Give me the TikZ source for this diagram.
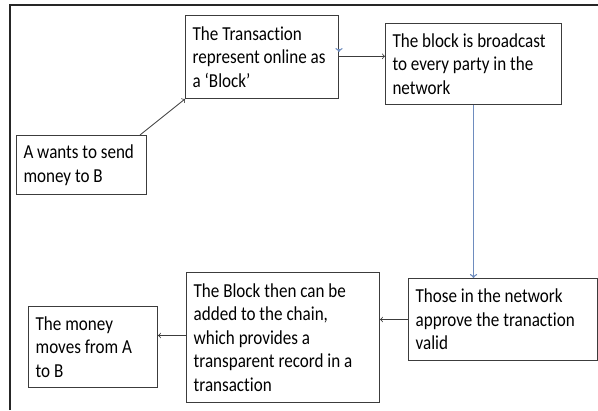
\documentclass[tikz,border=0pt]{standalone}
\usepackage{fontspec}
\usepackage{graphicx}
\setmainfont[Ligatures=NoCommon]{Carlito}
\definecolor{flowblue}{RGB}{110,140,190}
\definecolor{boxgray}{RGB}{60,60,60}
% text lines of a box, a little taller than wide as in the scan
\newcommand{\boxlines}[2]{\scalebox{1}[1.16]{\parbox{#1}{\raggedright #2}}}
\tikzset{
  flowbox/.style={draw=boxgray, line width=0.75pt, anchor=north west, align=left,
    inner sep=5pt, font=\fontsize{12.8pt}{15.2pt}\selectfont},
  flowarrow/.style={->, draw=boxgray, line width=0.6pt},
  bluearrow/.style={->, draw=flowblue, line width=1pt}
}
\begin{document}
\begin{tikzpicture}[x=0.75pt,y=0.75pt,yscale=-1,xscale=1]
\useasboundingbox (0,0) rectangle (598,410);

% Frame
\draw [line width=2pt, draw=black!85] (10,410) -- (10,5) -- (598,5);

% Text Node
\node (send) [flowbox, minimum width=97.5pt, minimum height=44.25pt] at (16,135) {\boxlines{87pt}{A wants to send\\money to B}};
% Text Node
\node (trans) [flowbox, minimum width=114.75pt, minimum height=62.25pt] at (185,15) {\boxlines{104pt}{The Transaction\\represent online as\\a ‘Block’}};
% Text Node
\node (bcast) [flowbox, minimum width=132pt, minimum height=60.75pt] at (385,23) {\boxlines{121.5pt}{The block is broadcast\\to every party in the\\network}};
% Text Node
\node (valid) [flowbox, minimum width=141.75pt, minimum height=61.5pt] at (408,278) {\boxlines{131pt}{Those in the network\\approve the tranaction\\valid}};
% Text Node
\node (chain) [flowbox, minimum width=144.75pt, minimum height=97.5pt] at (186,272) {\boxlines{134pt}{The Block then can be\\added to the chain,\\which provides a\\transparent record in a\\transaction}};
% Text Node
\node (moves) [flowbox, minimum width=96.75pt, minimum height=60.75pt] at (28,306) {\boxlines{86pt}{The money\\moves from A\\to B}};

% Connectors
\draw [flowarrow] ([xshift=-5.25pt]send.north east) -- (trans.south west);
\draw [flowarrow] ([yshift=-0.5pt]trans.east) -- ([yshift=-0.5pt]trans.east -| bcast.west);
\draw [bluearrow] (trans.north east |- 0,49) -- (trans.north east |- 0,52);
\draw [bluearrow] (bcast.south) -- (bcast.south |- valid.north);
\draw [flowarrow] (valid.west) -- (valid.west -| chain.east);
\draw [flowarrow] ([yshift=-1.5pt]chain.west) -- ([yshift=-1.5pt]chain.west -| moves.east);

\end{tikzpicture}
\end{document}
